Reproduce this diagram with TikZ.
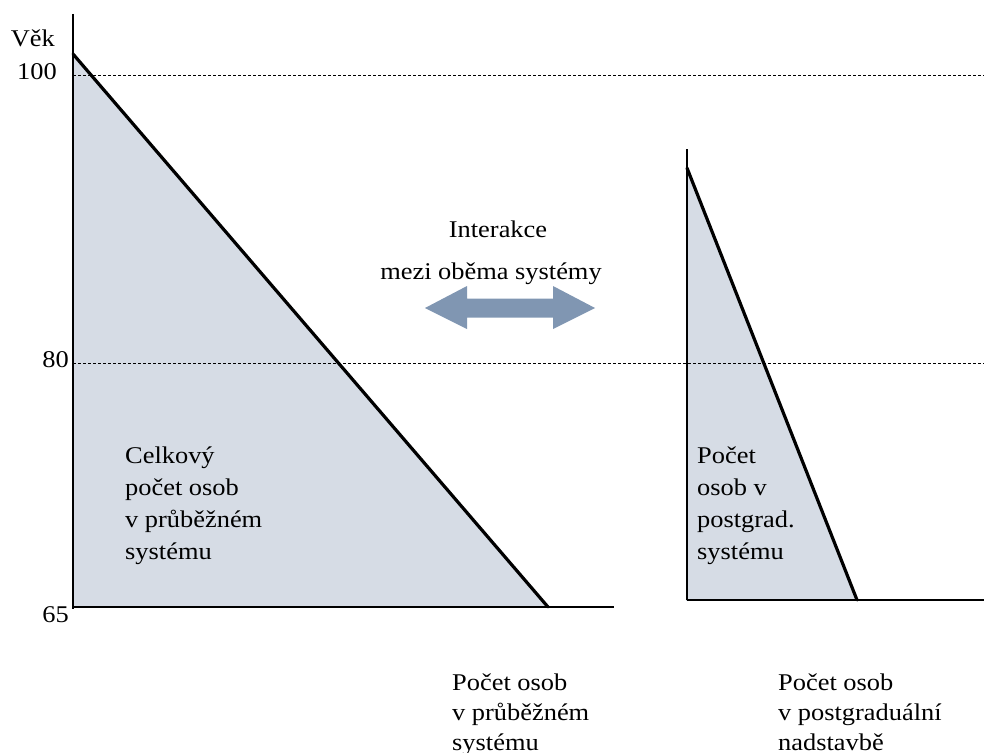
\documentclass[tikz,border=0pt]{standalone}
\usepackage{fontspec}
\setmainfont{Liberation Serif}[FakeStretch=1.1]
\definecolor{fillc}{RGB}{214,220,229}
\definecolor{edgec}{RGB}{84,120,165}
\definecolor{arrc}{RGB}{128,150,178}
\newcommand\mylines[1]{\begin{tabular}[t]{@{}l@{}}#1\end{tabular}}
\tikzset{
  axis/.style={line width=1.8pt, black},
  hyp/.style={line width=3.2pt, black, line cap=round},
  tri/.style={fill=fillc, draw=edgec, line width=1pt},
  grid/.style={line width=0.8pt, dash pattern=on 3pt off 2pt},
  lbl/.style={inner sep=0pt, font=\fontsize{24}{32}\selectfont},
  txt/.style={inner sep=0pt, anchor=base west, font=\fontsize{24}{32}\selectfont},
  txtb/.style={inner sep=0pt, anchor=base west, font=\fontsize{24}{30}\selectfont},
}
\begin{document}
\begin{tikzpicture}[x=1pt,y=-1pt]
\useasboundingbox (0,0) rectangle (984,752);
% coordinates
\coordinate (LTop) at (73,14);
\coordinate (LBot) at (73,609);
\coordinate (LA) at (73,54);
\coordinate (LO) at (73,607);
\coordinate (LB) at (548,607);
\coordinate (LEnd) at (614,607);
\coordinate (RTop) at (687,149);
\coordinate (RA) at (687,168);
\coordinate (RO) at (687,600);
\coordinate (RB) at (857,600);
\coordinate (REnd) at (984,600);
\coordinate (D1a) at (73,75);
\coordinate (D1b) at (984,75);
\coordinate (D2a) at (73,363);
\coordinate (D2b) at (984,363);
% triangles
\path[tri] (LA) -- (LO) -- (LB) -- cycle;
\path[tri] (RA) -- (RO) -- (RB) -- cycle;
% dashed lines
\draw[grid] (D1a) -- (D1b);
\draw[grid] (D2a) -- (D2b);
% axes
\draw[axis] (LTop) -- (LBot);
\draw[axis] (LO) -- (LEnd);
\draw[axis] (RTop) -- (RO);
\draw[axis] (RO) -- (REnd);
% hypotenuses
\draw[hyp] (LA) -- (LB);
\draw[hyp] (RA) -- (RB);
% double arrow
\fill[arrc] (425,308) -- (467,286) -- (467,298.5) -- (553,298.5) -- (553,286) -- (595,308)
  -- (553,329) -- (553,317.5) -- (467,317.5) -- (467,329) -- cycle;
% axis labels
\node[lbl, anchor=base east] (vek) at (55,46) {Věk};
\node[lbl, anchor=base east] (l100) at (57,79) {100};
\node[lbl, anchor=base east] (l80) at (69,367) {80};
\node[lbl, anchor=base east] (l65) at (69,622) {65};
% texts
\node[inner sep=0pt, anchor=base, font=\fontsize{24}{37}\selectfont] (inter) at (491,237)
  {\begin{tabular}[t]{@{}c@{}}\hspace*{14pt}Interakce\\[5pt] mezi oběma systémy\end{tabular}};
\node[txt] (celk) at (125,463) {\mylines{Celkový\\počet osob\\v průběžném\\systému}};
\node[txt] (post) at (697,463) {\mylines{Počet\\osob v\\postgrad.\\systému}};
\node[txtb] (botl) at (452,690) {\mylines{Počet osob\\v průběžném\\systému}};
\node[txtb] (botr) at (778,690) {\mylines{Počet osob\\v postgraduální\\nadstavbě}};
\end{tikzpicture}
\end{document}
